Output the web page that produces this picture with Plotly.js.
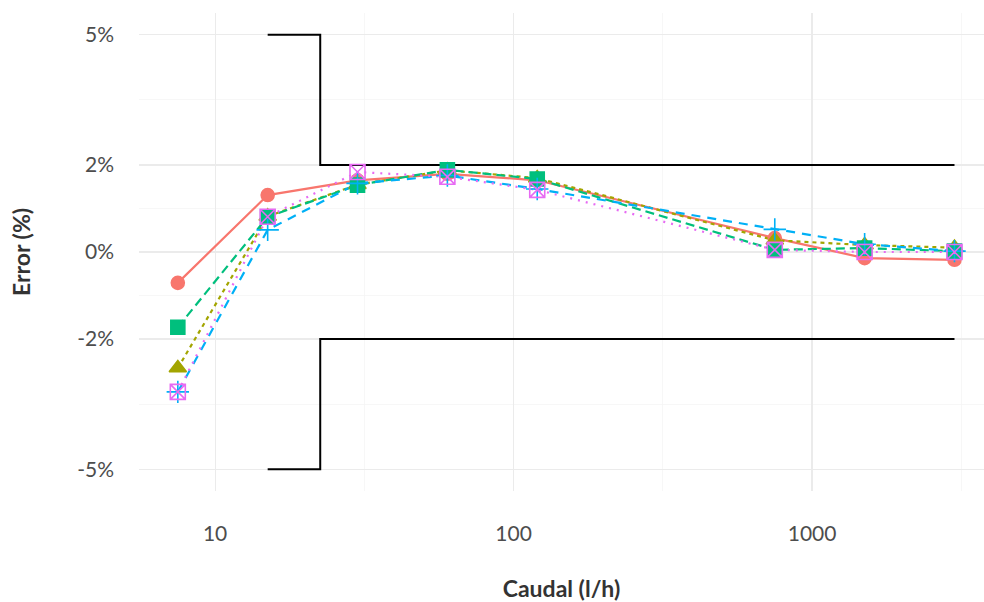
<!DOCTYPE html>
<html>
<head>
<meta charset="utf-8">
<script src="https://cdn.plot.ly/plotly-3.0.1.min.js"></script>
<style>html,body{margin:0;padding:0;background:#fff;}#chart{width:984px;height:602px;}</style>
</head>
<body>
<div id="chart"></div>
<script>
// Flow rates (l/h)
const flows = [7.5, 15, 30, 60, 120, 750, 1500, 3000];
// Error (%) per meter / series
const serie1 = [-0.71, 1.31, 1.65, 1.80, 1.65, 0.32, -0.14, -0.18];
const serie2 = [-2.67, 0.82, 1.55, 1.88, 1.70, 0.27, 0.16, 0.10];
const serie3 = [-1.73, 0.81, 1.54, 1.89, 1.68, 0.05, 0.09, 0.02];
const serie4 = [-3.22, 0.51, 1.58, 1.76, 1.45, 0.52, 0.18, 0.02];
const serie5 = [-3.22, 0.81, 1.84, 1.73, 1.43, 0.05, 0.00, 0.00];
// Tolerance limits (maximum permissible error)
const limitX = [15, 22.5, 22.5, 3000];
const limitUpper = [5, 5, 2, 2];
const limitLower = [-5, -5, -2, -2];
// Tick labels
const yTickVals = [-5, -2, 0, 2, 5];
const yTickText = ['-5%', '-2%', '0%', '2%', '5%'];
const yMinorVals = [-3.5, -1, 1, 3.5];
const xTickVals = [10, 100, 1000];
const xTickText = ['10', '100', '1000'];
const xMinorVals = [3.1623, 31.623, 316.23, 3162.3];

const series = [serie1, serie2, serie3, serie4, serie5];
const colors = ['#F8766D', '#A3A500', '#00BF7D', '#00B0F6', '#E76BF3'];
const dashes = ['solid', '4px,4px', '9px,5px', '9px,7px', '2px,6px'];
const symbols = ['circle', 'triangle-up', 'square', 'cross-thin-open', 'square-x-open'];
const sizes = [13, 15, 14, 16, 15];

const traces = [];
traces.push({x: limitX, y: limitUpper, mode: 'lines', line: {color: '#000', width: 2}, hoverinfo: 'skip', showlegend: false});
traces.push({x: limitX, y: limitLower, mode: 'lines', line: {color: '#000', width: 2}, hoverinfo: 'skip', showlegend: false});
series.forEach((s, i) => {
  traces.push({x: flows, y: s, mode: 'lines', line: {color: colors[i], width: 2.2, dash: dashes[i]}, showlegend: false});
});
series.forEach((s, i) => {
  traces.push({x: flows, y: s, mode: 'markers', marker: {color: colors[i], size: sizes[i], symbol: symbols[i], line: {color: colors[i], width: 1.6}}, showlegend: false});
});

const layout = {
  width: 984, height: 602,
  margin: {l: 139, r: 0, t: 13, b: 111},
  paper_bgcolor: '#fff', plot_bgcolor: '#fff',
  font: {family: 'Lato, "Open Sans", sans-serif', color: '#4d4d4d'},
  showlegend: false,
  xaxis: {
    type: 'log', range: [0.745, 3.576],
    tickmode: 'array', tickvals: xTickVals, ticktext: xTickText,
    tickfont: {size: 21, color: '#4d4d4d'}, ticks: '', ticklabelstandoff: 28,
    showgrid: true, gridcolor: '#ebebeb', gridwidth: 1.2,
    minor: {tickmode: 'array', tickvals: xMinorVals, showgrid: true, gridcolor: '#f4f4f4', gridwidth: 0.7, ticks: ''},
    zeroline: false, showline: false,
    title: {text: '<b>Caudal (l/h)</b>', font: {size: 23, color: '#333333'}, standoff: 36}
  },
  yaxis: {
    range: [-5.5, 5.5],
    tickmode: 'array', tickvals: yTickVals, ticktext: yTickText,
    tickfont: {size: 21, color: '#4d4d4d'}, ticks: '', ticklabelstandoff: 24,
    showgrid: true, gridcolor: '#ebebeb', gridwidth: 1.2,
    minor: {tickmode: 'array', tickvals: yMinorVals, showgrid: true, gridcolor: '#f4f4f4', gridwidth: 0.7, ticks: ''},
    zeroline: false, showline: false,
    title: {text: '<b>Error (%)</b>', font: {size: 23, color: '#333333'}, standoff: 40}
  }
};

Plotly.newPlot('chart', traces, layout, {displayModeBar: false, staticPlot: true});
</script>
</body>
</html>
